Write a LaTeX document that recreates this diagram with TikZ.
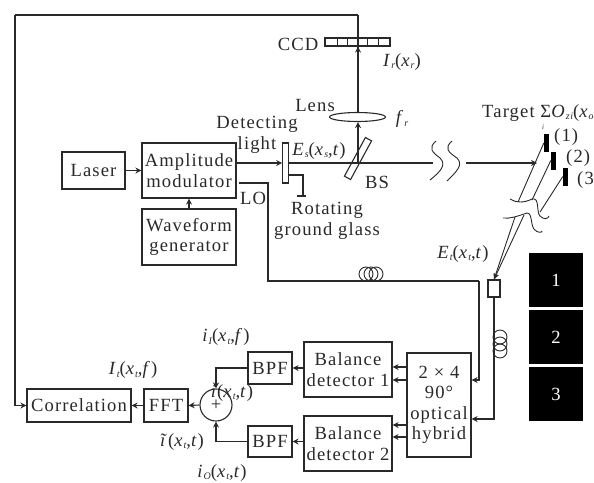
\documentclass[tikz,border=0pt]{standalone}
\usepackage{fontspec}
\setmainfont[LetterSpace=6]{Liberation Serif}
\usetikzlibrary{arrows.meta,shapes.geometric}
\newcommand{\sbs}[1]{\raisebox{-2.5pt}{\fontsize{10}{10}\selectfont\itshape #1}}
\newcommand{\vi}[1]{\textit{#1}}
\definecolor{ink}{gray}{0.16}
\tikzset{
  every node/.style={font=\fontsize{18.6}{20.5}\selectfont, text=ink},
  blockbox/.style={draw=ink, line width=1.1pt, inner sep=0pt, align=center},
  lbl/.style={inner sep=0pt, align=center},
  wire/.style={draw=ink, line width=1.1pt},
  arr/.style={wire, -{Stealth[length=6pt,width=6pt]}},
  thinw/.style={draw=ink, line width=0.9pt},
  pnl/.style={fill=black, inner sep=0pt, minimum width=54pt, minimum height=54pt, text=white},
  tgt/.style={fill=black, inner sep=0pt, minimum width=5pt, minimum height=18pt}
}
\begin{document}
\begin{tikzpicture}[x=1pt,y=-1pt]
\useasboundingbox (0,0) rectangle (594,482);
% blocks
\node[blockbox,minimum width=63pt,minimum height=37pt] (laser) at (93.5,170.5) {Laser};
\node[blockbox,minimum width=94pt,minimum height=55pt] (amp) at (189,170.5) {Amplitude\\modulator};
\node[blockbox,minimum width=94pt,minimum height=56pt] (wave) at (189,237) {Waveform\\generator};
\node[blockbox,minimum width=104pt,minimum height=33pt] (corr) at (79,405.5) {Correlation};
\node[blockbox,minimum width=44pt,minimum height=33pt] (fft) at (166,405.5) {FFT};
\node[blockbox,minimum width=44pt,minimum height=32pt] (bpfa) at (270,368) {BPF};
\node[blockbox,minimum width=44pt,minimum height=31pt] (bpfb) at (270,441.5) {BPF};
\node[blockbox,minimum width=88pt,minimum height=55pt] (bala) at (348,369.5) {Balance\\detector 1};
\node[blockbox,minimum width=88pt,minimum height=55pt] (balb) at (348,443.5) {Balance\\detector 2};
\node[blockbox,minimum width=64pt,minimum height=104pt] (hyb) at (439,405) {2 × 4\\90°\\optical\\hybrid};
\node[blockbox,draw=ink,minimum width=12pt,minimum height=17pt] (det) at (494,288.5) {};
\node[draw=ink,line width=1.1pt,circle,inner sep=0pt,minimum size=32pt] (sum) at (216,405) {+};
\node[draw=ink,line width=1.1pt,fill=white,inner sep=0pt,minimum width=5.5pt,minimum height=40pt] (glass) at (285.5,163) {};
% black panels
\node[pnl] (p1) at (556,280) {1};
\node[pnl] (p2) at (556,337) {2};
\node[pnl] (p3) at (556,394) {3};
% optics
\node[draw=ink,line width=1.1pt,inner sep=0pt,minimum width=65pt,minimum height=8pt] (ccd) at (357.5,42) {};
\foreach \x in {337,347,358,367,378} \draw[thinw] (\x,38) -- (\x,46);
\node[draw=ink,line width=1.1pt,ellipse,inner sep=0pt,minimum width=56pt,minimum height=9pt] (lens) at (357.5,117) {};
\node[draw=ink,line width=1.1pt,inner sep=0pt,minimum width=7pt,minimum height=44pt,rotate=-28.5] (bs) at (358,158.5) {};
\node[tgt] (t1) at (546.5,143) {};
\node[tgt] (t2) at (553.5,160.5) {};
\node[tgt] (t3) at (565.5,176.5) {};
% coordinates
\coordinate (bsc) at (358,163);
\coordinate (fb1) at (358,15);
\coordinate (fb2) at (15,15);
\coordinate (brk1) at (433,163);
\coordinate (brk2) at (466,163);
\coordinate (hit) at (537,163);
\coordinate (lo0) at (239,183);
\coordinate (lo1) at (268,183);
\coordinate (lo2) at (268,281);
\coordinate (lo3) at (479,281);
\coordinate (st1) at (288,175);
\coordinate (st2) at (303,175);
\coordinate (st3) at (303,196);
\coordinate (wa) at (518,202);
\coordinate (wb) at (532,200);
\coordinate (wc) at (540,212);
\coordinate (wd) at (515,217);
\coordinate (we) at (524,215);
% connectors
\draw[arr] (laser.east) -- (amp.west |- laser.east);
\draw[arr] (wave.north) -- (amp.south);
\draw[arr] (amp.east |- glass.west) -- (glass.west);
\draw[wire] (glass.east) -- (bsc) -- (brk1);
\draw[arr] (brk2) -- (hit);
\draw[arr] (bsc) -- (lens.south -| bsc);
\draw[wire] (lens.north -| bsc) -- (fb1);
\draw[-{Stealth[length=6pt,width=6pt]},wire] (lens.north -| bsc) -- (bsc |- ccd.south);
\draw[wire] (fb1) -- (fb2);
\draw[arr] (fb2) |- (corr.west);
\draw[wire] (lo0) -- (lo1) -- (lo2) -- (lo3);
\draw[arr] (lo3) |- (hyb.east |- 0,380);
\draw[arr] (det.south) |- (hyb.east |- 0,419);
\draw[wire] (st1) -- (st2) -- (st3);
\draw[wire] (297,196) -- (306,196);
\draw[arr] (hyb.west |- 0,367) -- (bala.east |- 0,367);
\draw[arr] (hyb.west |- 0,380) -- (bala.east |- 0,380);
\draw[arr] (hyb.west |- 0,425) -- (balb.east |- 0,425);
\draw[arr] (hyb.west |- 0,437) -- (balb.east |- 0,437);
\draw[arr] (bala.west |- bpfa.east) -- (bpfa.east);
\draw[arr] (balb.west |- bpfb.east) -- (bpfb.east);
\draw[arr] (bpfa.west) -| (sum.north);
\draw[arr] (bpfb.west) -| (sum.south);
\draw[arr] (sum.west) -- (fft.east);
\draw[arr] (fft.west) -- (corr.east);
% target rays
\draw[thinw] (t1.west) -- (wa);
\draw[thinw] (t2.west) -- (wb);
\draw[thinw] (t3.west) -- (wc);
\draw[thinw,-{Stealth[length=6pt,width=5pt]}] (wd) -- (det.north);
\draw[thinw,-{Stealth[length=6pt,width=5pt]}] (we) -- (det.north);
% break marks
\draw[thinw] (436,141) .. controls (428,148) and (432,152) .. (440,158) .. controls (447,165) and (440,172) .. (430,180);
\draw[thinw] (452,141) .. controls (444,148) and (448,152) .. (457,158) .. controls (464,165) and (456,172) .. (447,181);
\draw[thinw] (510,199) .. controls (516,203) and (524,203) .. (532,199) .. controls (540,197) and (536,212) .. (540,216) .. controls (544,220) and (548,219) .. (549,216);
\draw[thinw] (503,218) .. controls (510,219) and (518,216) .. (524,214) .. controls (533,209) and (530,224) .. (534,229) .. controls (537,233) and (542,233) .. (542,231);
% coils
\foreach \x in {366,371,376} \draw[thinw] (\x,274) circle[radius=7];
\foreach \y in {337,344,351} \draw[thinw] (500,\y) ellipse[x radius=7,y radius=7];
% labels
\node[lbl] (lccd) at (298,44) {CCD};
\node[lbl] (lir) at (402,62) {\vi{I}\sbs{r}(\vi{x}\sbs{r})};
\node[lbl] (llens) at (315,105) {Lens};
\node[lbl] (lfr) at (402,119) {\vi{f}\sbs{r}};
\node[lbl] (ldet) at (257,124) {Detecting};
\node[lbl] (llight) at (257,145) {light};
\node[lbl] (les) at (319,151) {\vi{E}\sbs{s}(\vi{x}\sbs{s},\vi{t})};
\node[lbl] (lbs) at (377,182) {BS};
\node[lbl] (lrot) at (327,221) {Rotating\\ground glass};
\node[lbl,anchor=west] (ltg) at (482,113) {Target Σ\vi{O}\sbs{zi}(\vi{x}\sbs{o}};
\node[lbl,font=\fontsize{7}{7}\selectfont\itshape] (lsi) at (543,127) {i};
\node[lbl,anchor=west] (l1) at (554,137) {(1)};
\node[lbl,anchor=west] (l2) at (566,158) {(2)};
\node[lbl,anchor=west] (l3) at (577,180) {(3};
\node[lbl] (llo) at (253,198) {LO};
\node[lbl] (let) at (463,254) {\vi{E}\sbs{t}(\vi{x}\sbs{t},\vi{t})};
\node[lbl] (lii) at (226,337) {\vi{i}\sbs{I}(\vi{x}\sbs{t},\vi{f})};
\node[lbl] (lit) at (133,370) {\vi{I}\sbs{t}(\vi{x}\sbs{t},\vi{f})};
\node[lbl] (li) at (232,393) {\vi{i}(\vi{x}\sbs{t},\vi{t})};
\node[lbl] (lti) at (182,442) {\vi{ĩ}(\vi{x}\sbs{t},\vi{t})};
\node[lbl] (liq) at (222,473) {\vi{i}\sbs{O}(\vi{x}\sbs{t},\vi{t})};
\end{tikzpicture}
\end{document}
